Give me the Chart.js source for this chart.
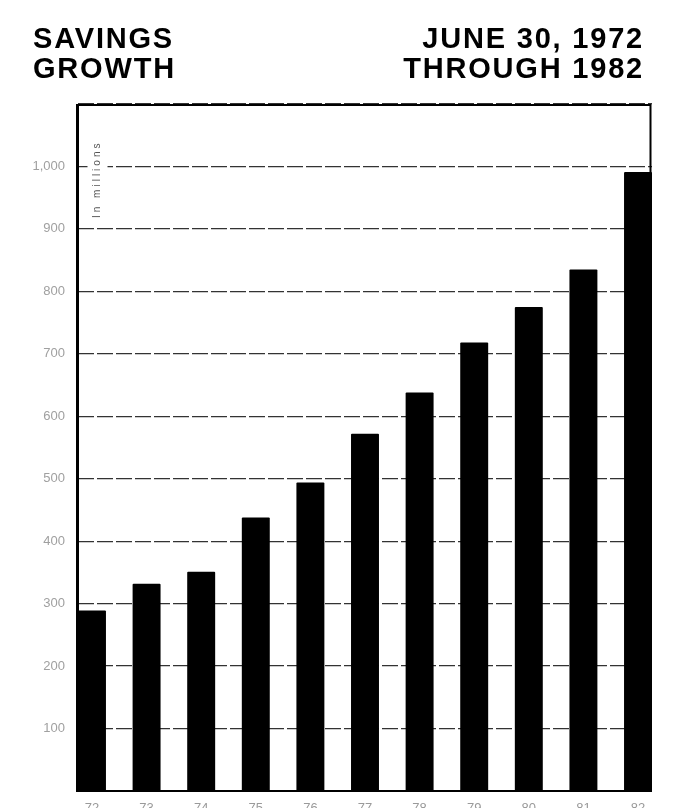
<!DOCTYPE html>
<html><head><meta charset="utf-8">
<script src="https://cdn.jsdelivr.net/npm/chart.js@4.4.1/dist/chart.umd.min.js"></script>
<style>
html,body{margin:0;padding:0;background:#fff;overflow:hidden;}
#wrap{position:relative;width:681px;height:822px;}
#chart{position:absolute;left:0;top:0;}
.hdr{position:absolute;top:23px;font:bold 29px/30px "Liberation Sans",Arial,Helvetica,sans-serif;letter-spacing:1.8px;color:#000;z-index:2;white-space:nowrap;}
#hl{left:33px;}
#hr{right:37px;text-align:right;}
</style></head>
<body>
<div id="wrap">
<canvas id="chart"></canvas>
<div class="hdr" id="hl">SAVINGS<br>GROWTH</div>
<div class="hdr" id="hr">JUNE 30, 1972<br>THROUGH 1982</div>
</div>
<script>
// ---- data ----
const years = [1972, 1973, 1974, 1975, 1976, 1977, 1978, 1979, 1980, 1981, 1982];
const yearLabels = ['72', '73', '74', '75', '76', '77', '78', '79', '80', '81', '82'];
const savings = [289, 332, 351, 438, 494, 572, 638, 718, 775, 835, 991];
const yTicks = [100, 200, 300, 400, 500, 600, 700, 800, 900, 1000];
const yTickText = ['100', '200', '300', '400', '500', '600', '700', '800', '900', '1,000'];
const unitLabel = 'In millions';

// ---- chart ----
Chart.defaults.font.family = '"Liberation Sans", Arial, Helvetica, sans-serif';
const barFrac = 0.512;
const halfBar = barFrac / 2;

const framePlugin = {
  id: 'frame',
  afterDatasetsDraw(chart) {
    const { ctx, chartArea: a } = chart;
    // unit label (rotated) with white backing
    ctx.save();
    ctx.translate(a.left + 19.5, a.top + 114);
    ctx.rotate(-Math.PI / 2);
    ctx.font = '10px "Liberation Sans", Arial, sans-serif';
    try { ctx.letterSpacing = '3px'; } catch (e) {}
    const w = ctx.measureText(unitLabel).width;
    ctx.fillStyle = '#fff';
    ctx.fillRect(-3, -10, w + 4, 20);
    ctx.fillStyle = '#555';
    ctx.textBaseline = 'middle';
    ctx.textAlign = 'left';
    ctx.fillText(unitLabel, 0, 0);
    ctx.restore();

    // frame
    ctx.save();
    ctx.strokeStyle = '#000';
    ctx.lineWidth = 2;
    ctx.beginPath();
    ctx.moveTo(a.left, a.top + 1);
    ctx.lineTo(a.right - 1.5, a.top + 1);
    ctx.lineTo(a.right - 1.5, a.bottom);
    ctx.moveTo(a.left, a.bottom);
    ctx.lineTo(a.right, a.bottom);
    ctx.stroke();
    ctx.lineWidth = 3;
    ctx.beginPath();
    ctx.moveTo(a.left - 0.5, a.top);
    ctx.lineTo(a.left - 0.5, a.bottom + 1);
    ctx.stroke();
    ctx.restore();
  }
};

new Chart(document.getElementById('chart'), {
  type: 'bar',
  data: {
    datasets: [{
      data: years.map((y, i) => ({ x: y, y: savings[i] })),
      backgroundColor: '#000',
      borderWidth: 0,
      borderRadius: 1,
      categoryPercentage: 1,
      barPercentage: barFrac
    }]
  },
  options: {
    responsive: true,
    maintainAspectRatio: false,
    animation: false,
    layout: { padding: { left: 0, right: 29, top: 104, bottom: 0 } },
    plugins: { legend: { display: false }, tooltip: { enabled: false } },
    scales: {
      x: {
        type: 'linear',
        offset: false,
        min: years[0] - halfBar,
        max: years[years.length - 1] + halfBar,
        grid: { display: false, drawTicks: false },
        border: { display: false },
        afterFit(s) { s.height = 31; },
        afterBuildTicks(s) { s.ticks = s.ticks.filter(t => years.includes(t.value)); },
        ticks: {
          stepSize: 1,
          includeBounds: false,
          autoSkip: false,
          maxRotation: 0,
          minRotation: 0,
          padding: 10,
          color: '#9a9a9a',
          font: { size: 13 },
          callback: v => { const i = years.indexOf(v); return i < 0 ? '' : yearLabels[i]; }
        }
      },
      y: {
        min: 0,
        max: 1100,
        afterFit(s) { s.width = 78; },
        grid: { color: '#333', lineWidth: 1.2, drawTicks: false },
        border: { display: false, dash: [16, 3] },
        ticks: {
          stepSize: 100,
          padding: 13,
          color: '#a0a0a0',
          font: { size: 13 },
          callback: v => { const i = yTicks.indexOf(v); return i < 0 ? '' : yTickText[i]; }
        }
      }
    }
  },
  plugins: [framePlugin]
});
</script>
</body></html>
